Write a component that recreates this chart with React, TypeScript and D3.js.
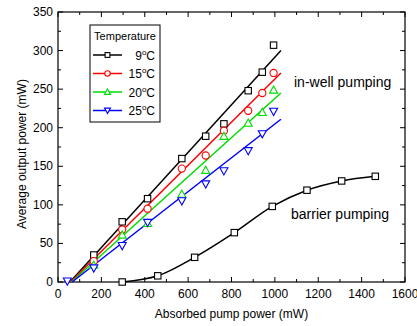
import * as d3 from 'd3'
import { useEffect, useRef } from 'react';

// measured points, absorbed pump power (mW) / output power (mW)
const pump9 = [165, 296, 413, 571, 681, 765, 877, 942, 994];
const out9 = [35, 78, 108, 160, 189, 205, 248, 272, 307];
const pump15 = [165, 296, 413, 571, 681, 765, 877, 942, 994];
const out15 = [27, 68, 95, 147, 164, 196, 222, 245, 271];
const pump20 = [165, 296, 413, 571, 681, 765, 877, 942, 994];
const out20 = [22, 61, 76, 114, 145, 189, 206, 220, 249];
const pump25 = [43, 165, 296, 413, 571, 681, 765, 877, 942, 994];
const out25 = [1, 18, 47, 77, 105, 127, 144, 170, 192, 221];

// linear fits: [start, end]
const fitX9 = [55, 1028], fitY9 = [0, 300];
const fitX15 = [58, 1028], fitY15 = [0, 271];
const fitX20 = [62, 1028], fitY20 = [0, 245];
const fitX25 = [65, 1028], fitY25 = [0, 211];

// barrier pumping
const pumpB = [296, 460, 630, 813, 988, 1148, 1308, 1463];
const outB = [0, 8, 32, 64, 98, 119, 131, 137];

const temps = ["9", "15", "20", "25"];
const colors = ["#000000", "#ff0000", "#00dd00", "#0000ff"];
const shapes = ["square", "circle", "tri", "tridown"];

const xTicks = [0, 200, 400, 600, 800, 1000, 1200, 1400, 1600];
const yTicks = [0, 50, 100, 150, 200, 250, 300, 350];

const font = "'Liberation Sans', Arial, sans-serif";

function marker( g, shape, color, x, y, k = 1 ) {
    if ( shape === "square" ) {
        const h = 3.2 * k;
        g.append( "rect" ).attr( "x", x - h ).attr( "y", y - h )
            .attr( "width", 2 * h ).attr( "height", 2 * h )
            .attr( "fill", "white" ).attr( "stroke", color ).attr( "stroke-width", 1.1 );
    } else if ( shape === "circle" ) {
        g.append( "circle" ).attr( "cx", x ).attr( "cy", y ).attr( "r", 3.6 * k )
            .attr( "fill", "white" ).attr( "stroke", color ).attr( "stroke-width", 1.1 );
    } else {
        const s = shape === "tri" ? 1 : -1;
        const pts = [ [x, y - 4 * k * s], [x - 4 * k, y + 3.2 * k * s], [x + 4 * k, y + 3.2 * k * s] ];
        g.append( "path" ).attr( "d", "M" + pts.join( "L" ) + "Z" )
            .attr( "fill", "white" ).attr( "stroke", color ).attr( "stroke-width", 1.1 );
    }
}

function drawChart( el ) {
    const svg = d3.select( el );
    svg.selectAll( "*" ).remove();

    const L = 58, R = 405, T = 12, B = 282;
    const x = d3.scaleLinear().domain( [0, 1600] ).range( [L, R] );
    const y = d3.scaleLinear().domain( [0, 350] ).range( [B, T] );

    // ticks (inward, all four sides)
    const tk = svg.append( "g" ).attr( "stroke", "black" ).attr( "stroke-width", 1 );
    d3.range( 0, 1601, 100 ).forEach( v => {
        const len = v % 200 === 0 ? 5 : 3;
        tk.append( "line" ).attr( "x1", x(v) ).attr( "x2", x(v) ).attr( "y1", B ).attr( "y2", B - len );
        tk.append( "line" ).attr( "x1", x(v) ).attr( "x2", x(v) ).attr( "y1", T ).attr( "y2", T + len );
    } );
    d3.range( 0, 351, 25 ).forEach( v => {
        const len = v % 50 === 0 ? 5 : 3;
        tk.append( "line" ).attr( "y1", y(v) ).attr( "y2", y(v) ).attr( "x1", L ).attr( "x2", L + len );
        tk.append( "line" ).attr( "y1", y(v) ).attr( "y2", y(v) ).attr( "x1", R ).attr( "x2", R - len );
    } );

    svg.append( "rect" ).attr( "x", L ).attr( "y", T )
        .attr( "width", R - L ).attr( "height", B - T )
        .attr( "fill", "none" ).attr( "stroke", "black" ).attr( "stroke-width", 1.2 );

    // tick labels
    svg.append( "g" ).selectAll( "text" ).data( xTicks ).enter().append( "text" )
        .attr( "x", d => x(d) ).attr( "y", B + 16 )
        .attr( "text-anchor", "middle" ).attr( "font-family", font ).attr( "font-size", 12 )
        .text( d => d );
    svg.append( "g" ).selectAll( "text" ).data( yTicks ).enter().append( "text" )
        .attr( "x", L - 5 ).attr( "y", d => y(d) + 4 )
        .attr( "text-anchor", "end" ).attr( "font-family", font ).attr( "font-size", 12 )
        .text( d => d );

    // axis titles
    svg.append( "text" ).attr( "x", (L + R) / 2 ).attr( "y", 318 )
        .attr( "text-anchor", "middle" ).attr( "font-family", font ).attr( "font-size", 12 )
        .text( "Absorbed pump power (mW)" );
    svg.append( "text" ).attr( "transform", "translate(26," + 154 + ") rotate(-90)" )
        .attr( "text-anchor", "middle" ).attr( "font-family", font ).attr( "font-size", 12 )
        .text( "Average output power (mW)" );

    const line = d3.line().x( d => x(d[0]) ).y( d => y(d[1]) );
    const fits = [ [fitX9, fitY9], [fitX15, fitY15], [fitX20, fitY20], [fitX25, fitY25] ];
    const pts = [ [pump9, out9], [pump15, out15], [pump20, out20], [pump25, out25] ];

    fits.forEach( ( f, i ) => {
        svg.append( "path" ).attr( "d", line( d3.zip( f[0], f[1] ) ) )
            .attr( "fill", "none" ).attr( "stroke", colors[i] ).attr( "stroke-width", 1.5 );
    } );

    // barrier curve
    const curve = d3.line().x( d => x(d[0]) ).y( d => y(d[1]) ).curve( d3.curveMonotoneX );
    svg.append( "path" ).attr( "d", curve( d3.zip( pumpB, outB ) ) )
        .attr( "fill", "none" ).attr( "stroke", "black" ).attr( "stroke-width", 1.5 );

    const mk = svg.append( "g" );
    pts.forEach( ( p, i ) => {
        p[0].forEach( ( v, j ) => marker( mk, shapes[i], colors[i], x(v), y(p[1][j]) ) );
    } );
    pumpB.forEach( ( v, j ) => marker( mk, "square", "black", x(v), y(outB[j]) ) );

    // annotations
    svg.append( "text" ).attr( "x", 294 ).attr( "y", 87 )
        .attr( "font-family", font ).attr( "font-size", 14 ).text( "in-well pumping" );
    svg.append( "text" ).attr( "x", 291 ).attr( "y", 219 )
        .attr( "font-family", font ).attr( "font-size", 14 ).text( "barrier pumping" );

    // legend
    const lg = svg.append( "g" );
    lg.append( "rect" ).attr( "x", 90 ).attr( "y", 25 ).attr( "width", 70 ).attr( "height", 97 )
        .attr( "fill", "white" ).attr( "stroke", "black" ).attr( "stroke-width", 1 );
    lg.append( "text" ).attr( "x", 125 ).attr( "y", 40 ).attr( "text-anchor", "middle" )
        .attr( "font-family", font ).attr( "font-size", 11 ).text( "Temperature" );
    temps.forEach( ( t, i ) => {
        const cy = 55 + i * 18.5;
        lg.append( "line" ).attr( "x1", 93 ).attr( "x2", 122 ).attr( "y1", cy ).attr( "y2", cy )
            .attr( "stroke", colors[i] ).attr( "stroke-width", 1.5 );
        marker( lg, shapes[i], colors[i], 107.5, cy, 0.75 );
        const tx = lg.append( "text" ).attr( "x", 155 ).attr( "y", cy + 4.5 ).attr( "text-anchor", "end" )
            .attr( "font-family", font ).attr( "font-size", 12 );
        tx.append( "tspan" ).text( t );
        tx.append( "tspan" ).attr( "dy", -5 ).attr( "font-size", 8 ).text( "o" );
        tx.append( "tspan" ).attr( "dy", 5 ).text( "C" );
    } );
}

function App() {
    const ref = useRef( null );
    useEffect( () => {
        drawChart( ref.current );
    } );

    return (
        <svg ref={ref} width="417" height="326"
            style={{ position: "absolute", left: 0, top: 0, background: "white" }}>
        </svg>
    );
}

export default App;
